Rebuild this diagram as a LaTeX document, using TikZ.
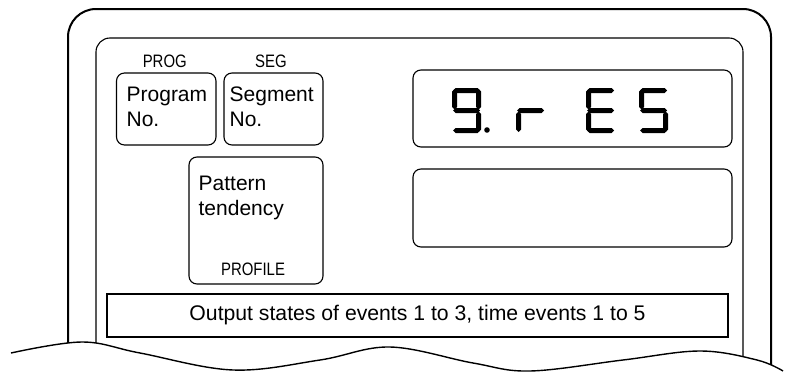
\documentclass[tikz,border=0pt]{standalone}
\usepackage{fontspec}
\newfontfamily\panelfont{Liberation Sans}
\newfontfamily\tagfont[FakeStretch=0.83]{Liberation Sans}
\usepackage{tikz}
\usetikzlibrary{positioning,calc}

% one bevelled bar of the 7-segment readout
\newcommand{\segH}[3]{\fill[lcd] (#1,#2) -- ++(2.5,-2.5) -- ++({#3-5},0) -- ++(2.5,2.5) -- ++(-2.5,2.5) -- ++({5-#3},0) -- cycle;}
\newcommand{\segV}[3]{\fill[lcd] (#1,#2) -- ++(2.5,2.5) -- ++(0,{#3-5}) -- ++(-2.5,2.5) -- ++(-2.5,-2.5) -- ++(0,{5-#3}) -- cycle;}
\newcommand{\lcdsega}[2]{\segH{#1+1}{#2+2.5}{27}}
\newcommand{\lcdsegg}[2]{\segH{#1+1}{#2+22.5}{27}}
\newcommand{\lcdsegd}[2]{\segH{#1+1}{#2+42.5}{27}}
\newcommand{\lcdsegf}[2]{\segV{#1+2.5}{#2+1}{20.5}}
\newcommand{\lcdsege}[2]{\segV{#1+2.5}{#2+23.5}{20.5}}
\newcommand{\lcdsegb}[2]{\segV{#1+26.5}{#2+1}{20.5}}
\newcommand{\lcdsegc}[2]{\segV{#1+26.5}{#2+23.5}{20.5}}
\newcommand{\lcddigit}[3]{\foreach \s in {#3}{\csname lcdseg\s\endcsname{#1}{#2}}}

\begin{document}
\begin{tikzpicture}[
  x=1pt, y=-1pt,
  font=\panelfont\fontsize{21}{24.5}\selectfont,
  outer/.style={line width=2pt, rounded corners=28pt},
  inner/.style={line width=1.1pt, rounded corners=14pt},
  keybox/.style={draw, rounded corners=8pt, line width=1.1pt, inner sep=0pt},
  plainbox/.style={draw, line width=1.1pt, inner sep=0pt},
  txt/.style={inner sep=0pt, align=left},
  tag/.style={inner sep=0pt, font=\tagfont\fontsize{18}{20}\selectfont},
  lcd/.style={fill=black},
  wave/.style={line width=1.4pt},
]
\useasboundingbox (0,0) rectangle (789,372);

% ---------- housing, cut off by the torn edge
\begin{scope}
  \clip (0,0) -- (0,353) -- (11,353) -- plot[smooth, tension=0.6] coordinates
    {(11,353) (82,342) (140,353) (233,370) (320,360) (390,347) (473,363)
     (530,371) (623,360) (700,351) (757,360) (783,371)} -- (789,372) -- (789,0) -- cycle;
  \draw[outer] (68,400) |- (420,9) -| (771,400);
  \draw[inner] (96,400) |- (420,38) -| (743,400);
\end{scope}
\draw[wave] plot[smooth, tension=0.6] coordinates
  {(11,353) (82,342) (140,353) (233,370) (320,360) (390,347) (473,363)
   (530,371) (623,360) (700,351) (757,360) (783,371)};

% ---------- keys on the left
\node[keybox, minimum width=99.5pt, minimum height=72pt] (prog) at (166.25,109) {};
\node[keybox, minimum width=99pt, minimum height=72pt] (segm) at (273.5,109) {};
\node[keybox, minimum width=134pt, minimum height=127pt] (patt) at (256,220.5) {};
\node[tag, anchor=base] at ($(prog.north)+(-1.5,-5)$) {PROG};
\node[tag, anchor=base] at ($(segm.north)+(-2.5,-5)$) {SEG};
\node[tag, anchor=base] at ($(patt.south)+(-3,-9)$) {PROFILE};
\node[txt, anchor=base west] at ($(prog.north west)+(10.5,54)$) {Program\\No.};
\node[txt, anchor=base west] at ($(segm.north west)+(6,54)$) {Segment\\No.};
\node[txt, anchor=base west] at ($(patt.north west)+(10,59)$) {Pattern\\tendency};

% ---------- the two readouts
\node[keybox, minimum width=319pt, minimum height=77pt] (disp1) at (572.5,108.5) {};
\node[keybox, minimum width=319pt, minimum height=78pt] (disp2) at (572.5,208) {};
\lcddigit{452}{88}{a,b,c,d,f,g}
\fill[lcd] (487,130) circle[radius=2.8];
\lcddigit{516}{88}{e,g}
\lcddigit{586}{88}{a,d,e,f,g}
\lcddigit{639}{88}{a,c,d,f,g}

% ---------- status line
\node[plainbox, minimum width=621pt, minimum height=43pt,
      font=\panelfont\fontsize{21.2}{24}\selectfont] (outline) at (417.5,315.5)
  {Output states of events 1 to 3, time events 1 to 5};
\end{tikzpicture}
\end{document}
